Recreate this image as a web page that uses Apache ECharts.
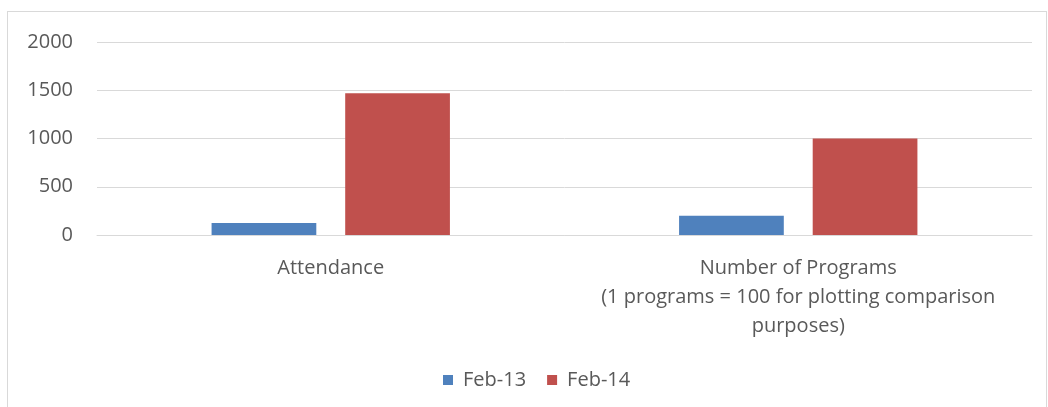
<!DOCTYPE html>
<html><head><meta charset="utf-8">
<script src="https://cdn.jsdelivr.net/npm/echarts@6/dist/echarts.min.js"></script>
<style>
html,body{margin:0;padding:0;background:#fff;}
#frame{position:absolute;left:7px;top:11px;width:1040px;height:400px;border:1px solid #d9d9d9;box-sizing:border-box;}
#c{position:absolute;left:0;top:0;width:1048px;height:407px;}
</style></head>
<body>
<div id="frame"></div>
<div id="c"></div>
<script>
const categories = ['Attendance', 'Number of Programs\n(1 programs = 100 for plotting comparison\npurposes)'];
const seriesNames = ['Feb-13', 'Feb-14'];
const feb13 = [124, 200];
const feb14 = [1470, 1000];
const yTicks = [0, 500, 1000, 1500, 2000];
const colors = ['#4f81bd', '#c0504d'];
const FONT = '"Open Sans", "Liberation Sans", sans-serif';
const chart = echarts.init(document.getElementById('c'));
chart.setOption({
  animation: false,
  textStyle: {fontFamily: FONT},
  grid: {left: 97, right: 16, top: 42, bottom: 172, containLabel: false},
  legend: {
    top: 370, left: 443, padding: 0, itemWidth: 10, itemHeight: 10, itemGap: 21,
    icon: 'rect',
    textStyle: {color: '#595959', fontSize: 20, fontFamily: FONT, padding: [0, 0, 0, 5]},
    data: seriesNames
  },
  xAxis: {
    type: 'category', data: categories,
    axisLine: {lineStyle: {color: '#d9d9d9', width: 1}},
    axisTick: {show: false},
    axisLabel: {color: '#595959', fontSize: 20, lineHeight: 29, margin: 19, fontFamily: FONT, align: 'center', interval: 0, hideOverlap: false}
  },
  yAxis: {
    type: 'value', min: yTicks[0], max: yTicks[yTicks.length - 1], interval: yTicks[1] - yTicks[0],
    axisLine: {show: false}, axisTick: {show: false},
    splitLine: {lineStyle: {color: '#d9d9d9', width: 1}},
    axisLabel: {color: '#595959', fontSize: 20, margin: 24, fontFamily: FONT, formatter: v => String(v)}
  },
  series: [
    {name: seriesNames[0], type: 'bar', data: feb13, itemStyle: {color: colors[0]}, barWidth: '22.4%', barGap: '27.6%'},
    {name: seriesNames[1], type: 'bar', data: feb14, itemStyle: {color: colors[1]}, barWidth: '22.4%'}
  ]
});
</script>
</body></html>
